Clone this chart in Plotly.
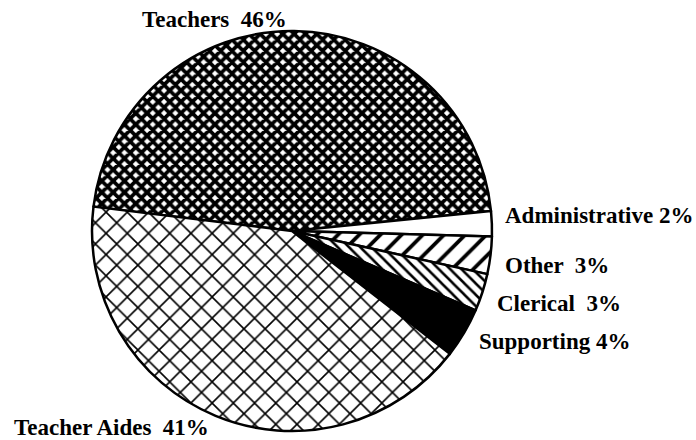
import plotly.graph_objects as go

categories = ["Teachers", "Administrative", "Other", "Clerical", "Supporting", "Teacher Aides"]
values = [46, 2, 3, 3, 4, 41]
label_texts = ["Teachers  46%", "Administrative 2%", "Other  3%", "Clerical  3%", "Supporting 4%", "Teacher Aides  41%"]

shapes = ["x", "", "/", "\\", "", "x"]
sizes = [8, 8, 15, 8, 8, 15]
solidity = [0.72, 0.3, 0.25, 0.32, 0.3, 0.2]
fills = ["white", "white", "white", "white", "black", "white"]

W, H = 696, 440
cx, cy, r = 292, 231, 200

fig = go.Figure(go.Pie(
    labels=categories,
    values=values,
    sort=False,
    direction="clockwise",
    rotation=277,
    textinfo="none",
    hoverinfo="skip",
    showlegend=False,
    marker=dict(
        colors=fills,
        line=dict(color="black", width=2.5),
        pattern=dict(shape=shapes, size=sizes, solidity=solidity,
                     fgcolor="black", bgcolor=fills, fillmode="replace"),
    ),
    domain=dict(x=[(cx - r) / W, (cx + r) / W], y=[1 - (cy + r) / H, 1 - (cy - r) / H]),
))

# label positions: left x, center y in pixels
label_pos = [(140, 20), (503, 215), (503, 265), (495, 303), (477, 341), (12, 427)]
font = dict(family="Liberation Serif", size=23, color="black", weight="bold")
for t, (px, py) in zip(label_texts, label_pos):
    fig.add_annotation(text=t, x=px / W, y=1 - py / H, xref="paper", yref="paper",
                       xanchor="left", yanchor="middle", showarrow=False, font=font)

fig.update_layout(width=W, height=H, margin=dict(l=0, r=0, t=0, b=0),
                  paper_bgcolor="white", plot_bgcolor="white")
fig.write_html("out.html", config={"displayModeBar": False},
               post_script="document.body.style.margin='0';")
